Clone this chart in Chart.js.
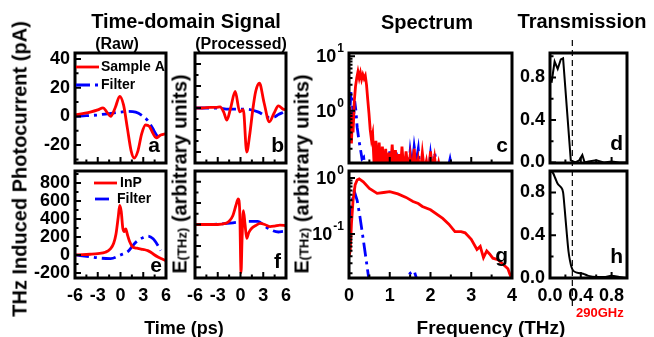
<!DOCTYPE html>
<html>
<head>
<meta charset="utf-8">
<script src="https://cdn.jsdelivr.net/npm/chart.js@4.4.1/dist/chart.umd.min.js"></script>
<style>
  body { margin: 0; background: #fff; width: 654px; height: 337px; position: relative; overflow: hidden;
         font-family: 'Liberation Sans', Arial, sans-serif; font-weight: bold; color: #000; }
  canvas { position: absolute; left: 0; top: 0; }
  .t { position: absolute; white-space: nowrap; transform: translate(-50%, -50%); }
  .v { position: absolute; white-space: nowrap; transform: translate(-50%, -50%) rotate(-90deg); }
  .sub { font-size: 13px; }
</style>
</head>
<body>
<canvas id="pa" width="654" height="337"></canvas>
<canvas id="pb" width="654" height="337"></canvas>
<canvas id="pc" width="654" height="337"></canvas>
<canvas id="pd" width="654" height="337"></canvas>
<canvas id="pe" width="654" height="337"></canvas>
<canvas id="pf" width="654" height="337"></canvas>
<canvas id="pg" width="654" height="337"></canvas>
<canvas id="ph" width="654" height="337"></canvas>

<div class="t" style="left:186px;top:21px;font-size:20px">Time-domain Signal</div>
<div class="t" style="left:117px;top:44px;font-size:16px">(Raw)</div>
<div class="t" style="left:241px;top:44px;font-size:16px">(Processed)</div>
<div class="t" style="left:427px;top:22px;font-size:20px">Spectrum</div>
<div class="t" style="left:582px;top:21px;font-size:20px">Transmission</div>
<div class="v" style="left:20px;top:169px;font-size:20px">THz Induced Photocurrent (pA)</div>
<div class="v" style="left:180px;top:174px;font-size:20px">E<span class="sub">(THz)</span> (arbitrary units)</div>
<div class="v" style="left:302px;top:174px;font-size:20px">E<span class="sub">(THz)</span> (arbitrary units)</div>
<div class="t" style="left:184px;top:328px;font-size:18px">Time (ps)</div>
<div class="t" style="left:491px;top:328px;font-size:19px">Frequency (THz)</div>
<div style="position:absolute;left:576px;top:305px;font-size:13px;color:#f00">290GHz</div>

<script>
const W = 654, H = 337;
const RED = '#ff0000', BLUE = '#0000ff';
const DASHDOT = [14, 5, 3, 5];

// ---- tick labels ----
const timeTicks = [-6, -3, 0, 3, 6];
const rawTicksA = [-20, 0, 20, 40];
const rawTicksE = [-200, 0, 200, 400, 600, 800];
const procTicks = [-0.8, -0.4, 0, 0.4, 0.8];
const freqTicks = [0, 1, 2, 3, 4];
const transTicks = [0, 0.4, 0.8];
const transFreqTicks = [0, 0.4, 0.8];
const logLabelsC = [10, 1];
const logLabelsG = [1, 0.1];

// ---- (a) raw, sample A ----
const timeA = [-6, -5, -4, -3, -2.3, -1.8, -1.3, -0.7, -0.1, 0.4, 0.9, 1.4, 1.8, 2.3, 2.8, 3.3, 3.8, 4.3, 4.7, 5.3, 6];
const rawSampleA = [1, 2, 3, 4.5, 6, 3, 0, 6, 14, 8, -8, -24, -29, -24, -12, -6, -7, -12, -15, -13, -12];
const timeFilterA = [-6, -4.5, -3, -1.5, 0, 1, 2, 3, 3.6, 4.2, 4.9, 5.3];
const rawFilterA = [0, 0.5, 1, 2, 3, 3.5, 3, 0, -3, -8, -14, -15];

// ---- (e) raw, InP ----
const timeE = [-6, -5, -4, -3, -2, -1.3, -0.9, -0.6, -0.3, -0.1, 0.1, 0.3, 0.5, 0.7, 0.9, 1.2, 1.6, 2.2, 2.7, 3.2, 3.6, 4.0, 4.4, 5.0, 5.5, 6];
const rawInP = [0, 3, 8, 15, 30, 70, 130, 230, 420, 550, 480, 300, 260, 290, 230, 150, 90, 75, 65, 58, 48, 30, 5, -25, -45, -65];
const timeFilterE = [-6, -4, -2.7, -1.3, 0, 1, 2, 3, 3.6, 4.3, 4.9, 5.3];
const rawFilterE = [0, -20, -35, -40, 0, 40, 140, 195, 210, 180, 110, 50];

// ---- (b) processed, sample A ----
const timeB = [-6, -5, -4, -3.2, -2.7, -2.2, -1.8, -1.3, -0.7, -0.1, 0.37, 0.82, 1.2, 1.65, 2.0, 2.5, 3.1, 3.8, 4.4, 5.0, 5.6, 6];
const procSampleA = [0, 0, 0.01, 0.01, 0.02, -0.08, -0.22, 0, 0.3, -0.07, -0.03, -0.8, -0.5, 0, 0.3, 0.45, 0.1, -0.25, -0.1, 0.04, -0.02, -0.03];
const timeFilterB = [-6, -4.5, -3, -1.6, 0, 0.6, 2.3, 3.8, 4.5, 5.0, 5.6];
const procFilterA = [0, 0, 0, -0.02, -0.02, -0.02, -0.07, -0.17, -0.16, -0.12, -0.08];

// ---- (f) processed, InP ----
const timeF = [-6, -4.5, -3, -2, -1.5, -1.0, -0.6, -0.3, -0.1, 0.07, 0.2, 0.38, 0.6, 0.82, 1.1, 1.48, 2.0, 2.6, 3.2, 3.9, 4.5, 5.2, 6];
const procInP = [0, 0, 0, 0.02, 0.06, 0.17, 0.36, 0.48, 0.25, -0.9, -0.3, 0.26, 0.0, -0.26, -0.15, -0.07, -0.02, 0.02, 0, -0.04, -0.03, -0.01, -0.02];
const timeFilterF = [-6, -4, -2.5, -1, 0, 0.8, 2.3, 3.2, 4.0, 5.0, 5.6];
const procFilterInP = [0, 0, 0.01, 0.03, 0.05, 0.06, 0.06, -0.03, -0.1, -0.14, -0.13];

// ---- (c) spectrum, sample A ----
const freqC = [0.00, 0.02, 0.04, 0.06, 0.08, 0.10, 0.13, 0.16, 0.19, 0.22, 0.25, 0.28, 0.31, 0.34, 0.37, 0.40, 0.43, 0.46, 0.49, 0.52,
  0.55, 0.58, 0.62, 0.66, 0.70, 0.74, 0.78, 0.82, 0.86, 0.90, 0.94, 0.98, 1.02, 1.06, 1.10, 1.14, 1.18, 1.22, 1.26, 1.30,
  1.35, 1.40, 1.45, 1.50, 1.55, 1.60, 1.65, 1.70, 1.75, 1.80, 1.85, 1.90, 1.95, 2.00, 2.05, 2.10, 2.15, 2.20, 2.25];
const specSampleA = [1.2, 0.3, 0.9, 0.25, 0.7, 0.4, 1.5, 2.8, 4.0, 5.2, 4.0, 5.0, 3.8, 4.6, 3.9, 4.4, 3.0, 1.6, 0.9, 0.45,
  0.3, 0.38, 0.09, 0.28, 0.08, 0.26, 0.09, 0.22, 0.08, 0.2, 0.07, 0.17, 0.09, 0.24, 0.08, 0.19, 0.07, 0.16, 0.08, 0.22,
  0.07, 0.18, 0.08, 0.15, 0.07, 0.2, 0.08, 0.13, 0.07, 0.17, 0.08, 0.12, 0.07, 0.18, 0.08, 0.14, 0.07, 0.11, 0.07];
const freqCF = [0.00, 0.03, 0.05, 0.08, 0.11, 0.14, 0.17, 0.20, 0.24, 0.28, 0.32, 0.36, 0.40, 0.50, 0.60, 0.64, 0.68, 0.72, 0.80, 0.88,
  0.92, 0.96, 1.00, 1.04, 1.08, 1.12, 1.16, 1.20, 1.26, 1.35, 1.45, 1.50, 1.55, 1.60, 1.65, 1.70, 1.75, 1.85, 1.95, 2.00,
  2.05, 2.10, 2.20, 2.40, 2.48, 2.55];
const specFilterA = [0.4, 1.3, 2.2, 1.4, 0.7, 1.5, 1.0, 0.5, 0.3, 0.2, 0.13, 0.14, 0.08, 0.07, 0.07, 0.15, 0.07, 0.16, 0.07, 0.07,
  0.17, 0.08, 0.18, 0.07, 0.15, 0.08, 0.17, 0.07, 0.07, 0.07, 0.07, 0.18, 0.09, 0.22, 0.12, 0.2, 0.07, 0.07, 0.07, 0.16,
  0.08, 0.17, 0.07, 0.07, 0.13, 0.07];

// ---- (g) spectrum, InP ----
const freqG = [0.0, 0.03, 0.06, 0.1, 0.15, 0.2, 0.25, 0.35, 0.5, 0.69, 0.85, 1.0, 1.2, 1.4, 1.57, 1.7, 1.8, 2.0, 2.3, 2.45,
  2.6, 2.75, 2.85, 3.0, 3.14, 3.22, 3.3, 3.38, 3.45, 3.53, 3.65, 3.8, 3.9, 4.0];
const specInP = [0.04, 0.05, 0.15, 0.4, 0.75, 0.92, 0.96, 0.85, 0.65, 0.53, 0.55, 0.57, 0.52, 0.45, 0.38, 0.35, 0.31, 0.27, 0.19, 0.15,
  0.11, 0.11, 0.105, 0.08, 0.053, 0.06, 0.038, 0.05, 0.044, 0.037, 0.035, 0.028, 0.024, 0.015];
const freqGF = [0.0, 0.03, 0.06, 0.1, 0.13, 0.2, 0.27, 0.35, 0.42, 0.48, 0.6, 1.3, 1.4, 1.5, 1.6, 1.67, 1.8];
const specFilterInP = [0.06, 0.1, 0.3, 0.5, 0.58, 0.4, 0.2, 0.08, 0.035, 0.017, 0.005, 0.005, 0.014, 0.02, 0.022, 0.015, 0.005];

// ---- (d) / (h) transmission ----
const freqD = [0.02, 0.06, 0.1, 0.14, 0.17, 0.27, 0.33, 0.38, 0.42, 0.45, 0.5, 0.6, 0.7, 0.8, 0.9, 1.0];
const transA = [0.75, 0.95, 0.88, 0.97, 0.98, 0.02, 0.0, 0.02, 0.07, 0.0, 0.01, 0.02, 0.0, 0.01, 0.0, 0.0];
const freqH = [0.01, 0.04, 0.07, 0.1, 0.14, 0.17, 0.19, 0.22, 0.24, 0.26, 0.28, 0.3, 0.35, 0.43, 0.5, 0.6, 0.7, 0.8, 0.9, 1.0];
const transInP = [1.0, 0.98, 0.93, 0.88, 0.85, 0.8, 0.65, 0.4, 0.25, 0.16, 0.1, 0.07, 0.05, 0.04, 0.02, 0.01, 0.01, 0.02, 0.01, 0.0];
const cutoff = 0.29;

Chart.defaults.font.family = "'Liberation Sans', Arial, sans-serif";

const Y_AXIS_W = 50, X_AXIS_H = 40;

function pts(xs, ys) {
  return xs.map((x, i) => ({ x: x, y: ys[i] }));
}

// inward tick marks (major + minor) for a scale
function tickList(s) {
  const out = [];
  if (s.type === 'logarithmic') {
    const d0 = Math.floor(Math.log10(s.min)), d1 = Math.ceil(Math.log10(s.max));
    for (let d = d0; d <= d1; d++) {
      for (let k = 1; k <= 9; k++) {
        const v = k * Math.pow(10, d);
        if (v >= s.min && v <= s.max) out.push([v, k === 1]);
      }
    }
    return out;
  }
  const maj = s.ticks.map(t => t.value);
  const step = (maj[1] - maj[0]) / 2;
  let v = maj[0];
  while (v - step >= s.min - 1e-9) v -= step;
  for (; v <= s.max + 1e-9; v += step) {
    const isMaj = maj.some(m => Math.abs(m - v) < 1e-6);
    out.push([v, isMaj]);
  }
  return out;
}

const panelDeco = {
  id: 'panelDeco',
  afterDraw(chart, args, o) {
    const ctx = chart.ctx, a = chart.chartArea;
    const xs = chart.scales.x, ys = chart.scales.y;
    ctx.save();
    ctx.strokeStyle = '#000';
    ctx.lineWidth = 2;
    ctx.beginPath();
    tickList(xs).forEach(([v, m]) => {
      const p = xs.getPixelForValue(v);
      ctx.moveTo(p, a.bottom); ctx.lineTo(p, a.bottom - (m ? 6 : 3.5));
    });
    tickList(ys).forEach(([v, m]) => {
      const p = ys.getPixelForValue(v);
      ctx.moveTo(a.left, p); ctx.lineTo(a.left + (m ? 6 : 3.5), p);
    });
    ctx.stroke();
    ctx.lineWidth = 3;
    ctx.strokeRect(a.left, a.top, a.right - a.left, a.bottom - a.top);

    ctx.fillStyle = '#000';
    if (o.letter) {
      ctx.font = 'bold 21px "Liberation Sans", Arial, sans-serif';
      ctx.textAlign = 'right';
      ctx.textBaseline = 'alphabetic';
      ctx.fillText(o.letter, a.right + o.letterDx, a.bottom + o.letterDy);
    }
    if (o.logLabels) {
      o.logLabels.forEach(v => {
        const e = String(Math.round(Math.log10(v)));
        const y = ys.getPixelForValue(v);
        ctx.textAlign = 'left';
        ctx.textBaseline = 'alphabetic';
        ctx.font = 'bold 12px "Liberation Sans", Arial, sans-serif';
        const ew = ctx.measureText(e).width;
        ctx.font = 'bold 18px "Liberation Sans", Arial, sans-serif';
        const bw = ctx.measureText('10').width;
        const x0 = a.left - 6 - ew - bw;
        ctx.fillText('10', x0, y + 6);
        ctx.font = 'bold 12px "Liberation Sans", Arial, sans-serif';
        ctx.fillText(e, x0 + bw + 1, y - 4);
      });
    }
    if (o.legend) {
      o.legend.forEach(l => {
        ctx.strokeStyle = l.color;
        ctx.lineWidth = 2.8;
        ctx.setLineDash(l.dash);
        ctx.beginPath();
        ctx.moveTo(l.x0, l.y); ctx.lineTo(l.x1, l.y);
        ctx.stroke();
        ctx.setLineDash([]);
        ctx.fillStyle = '#000';
        ctx.font = 'bold 14px "Liberation Sans", Arial, sans-serif';
        ctx.textAlign = 'left';
        ctx.textBaseline = 'middle';
        ctx.fillText(l.text, l.tx, l.y);
      });
    }
    if (o.marker) {
      const p = xs.getPixelForValue(o.marker.v);
      ctx.strokeStyle = '#000';
      ctx.lineWidth = 1.2;
      ctx.setLineDash([6, 4]);
      ctx.beginPath();
      ctx.moveTo(p, o.marker.y0); ctx.lineTo(p, o.marker.y1);
      ctx.stroke();
    }
    ctx.restore();
  }
};

function axis(a, horizontal) {
  return {
    type: a.log ? 'logarithmic' : 'linear',
    min: a.min,
    max: a.max,
    grid: { display: false, drawTicks: false },
    border: { display: false },
    afterFit: s => {
      if (horizontal) s.height = a.labels ? X_AXIS_H : 0;
      else s.width = a.labels ? Y_AXIS_W : 0;
    },
    afterBuildTicks: a.ticks ? s => { s.ticks = a.ticks.map(v => ({ value: v })); } : undefined,
    ticks: {
      display: !!a.labels,
      padding: horizontal ? 7 : 5,
      autoSkip: false,
      maxRotation: 0,
      minRotation: 0,
      color: '#000',
      font: { size: 18, weight: 'bold' },
      callback: a.fmt || (v => String(v))
    }
  };
}

function makePanel(id, box, xa, ya, series, deco) {
  const [L, T, R, B] = box;
  const yw = ya.labels ? Y_AXIS_W : 0, xh = xa.labels ? X_AXIS_H : 0;
  new Chart(document.getElementById(id), {
    type: 'line',
    data: {
      datasets: series.map(s => ({
        data: s.data,
        borderColor: s.color,
        borderWidth: s.width || 2.8,
        borderDash: s.dash || [],
        pointRadius: 0,
        fill: false,
        tension: s.smooth ? 0.4 : 0,
        cubicInterpolationMode: s.smooth ? 'monotone' : 'default'
      }))
    },
    options: {
      responsive: false,
      animation: false,
      events: [],
      layout: { autoPadding: false, padding: { left: L - yw, top: T, right: W - R, bottom: H - B - xh } },
      plugins: { legend: { display: false }, tooltip: { enabled: false }, panelDeco: deco },
      scales: { x: axis(xa, true), y: axis(ya, false) }
    },
    plugins: [panelDeco]
  });
}

const TOP = [53, 163], BOT = [171, 278];
const fmt1 = v => v.toFixed(1);

makePanel('pa', [75, TOP[0], 166, TOP[1]],
  { min: -6, max: 6, ticks: timeTicks },
  { min: -32.5, max: 44.2, ticks: rawTicksA, labels: true },
  [{ data: pts(timeA, rawSampleA), color: RED, smooth: true },
   { data: pts(timeFilterA, rawFilterA), color: BLUE, dash: DASHDOT, smooth: true }],
  { letter: 'a', letterDx: -6, letterDy: -11,
    legend: [{ text: 'Sample A', color: RED, dash: [], x0: 76, x1: 99, tx: 101, y: 67 },
             { text: 'Filter', color: BLUE, dash: DASHDOT, x0: 76, x1: 99, tx: 101, y: 85 }] });

makePanel('pe', [75, BOT[0], 166, BOT[1]],
  { min: -6, max: 6, ticks: timeTicks, labels: true },
  { min: -256, max: 933, ticks: rawTicksE, labels: true },
  [{ data: pts(timeE, rawInP), color: RED, smooth: true },
   { data: pts(timeFilterE, rawFilterE), color: BLUE, dash: DASHDOT, smooth: true }],
  { letter: 'e', letterDx: -4, letterDy: -6,
    legend: [{ text: 'InP', color: RED, dash: [], x0: 94, x1: 117, tx: 120, y: 183 },
             { text: 'Filter', color: BLUE, dash: DASHDOT, x0: 95, x1: 114, tx: 117, y: 199 }] });

makePanel('pb', [195, TOP[0], 286, TOP[1]],
  { min: -6, max: 6, ticks: timeTicks },
  { min: -1, max: 1, ticks: procTicks },
  [{ data: pts(timeB, procSampleA), color: RED, smooth: true },
   { data: pts(timeFilterB, procFilterA), color: BLUE, dash: DASHDOT, smooth: true }],
  { letter: 'b', letterDx: -2, letterDy: -11 });

makePanel('pf', [195, BOT[0], 286, BOT[1]],
  { min: -6, max: 6, ticks: timeTicks, labels: true },
  { min: -1, max: 1, ticks: procTicks },
  [{ data: pts(timeF, procInP), color: RED, smooth: true },
   { data: pts(timeFilterF, procFilterInP), color: BLUE, dash: DASHDOT, smooth: true }],
  { letter: 'f', letterDx: -5, letterDy: -10 });

makePanel('pc', [349, TOP[0], 512, TOP[1]],
  { min: 0, max: 4, ticks: freqTicks },
  { min: 0.11, max: 11.5, log: true },
  [{ data: pts(freqC, specSampleA), color: RED },
   { data: pts(freqCF, specFilterA), color: BLUE, dash: DASHDOT }],
  { letter: 'c', letterDx: -4, letterDy: -11, logLabels: logLabelsC });

makePanel('pg', [349, BOT[0], 512, BOT[1]],
  { min: 0, max: 4, ticks: freqTicks, labels: true },
  { min: 0.0164, max: 1.33, log: true },
  [{ data: pts(freqG, specInP), color: RED },
   { data: pts(freqGF, specFilterInP), color: BLUE, dash: DASHDOT }],
  { letter: 'g', letterDx: -4, letterDy: -16, logLabels: logLabelsG });

makePanel('pd', [550, TOP[0], 627, TOP[1]],
  { min: 0, max: 1, ticks: transFreqTicks },
  { min: -0.005, max: 1.03, ticks: transTicks, labels: true, fmt: fmt1 },
  [{ data: pts(freqD, transA), color: '#000', width: 2 }],
  { letter: 'd', letterDx: -4, letterDy: -13 });

makePanel('ph', [550, BOT[0], 627, BOT[1]],
  { min: 0, max: 1, ticks: transFreqTicks, labels: true, fmt: fmt1 },
  { min: 0, max: 1.0, ticks: transTicks, labels: true, fmt: fmt1 },
  [{ data: pts(freqH, transInP), color: '#000', width: 2, smooth: true }],
  { letter: 'h', letterDx: -4, letterDy: -15, marker: { v: cutoff, y0: 40, y1: 308 } });
</script>
</body>
</html>
